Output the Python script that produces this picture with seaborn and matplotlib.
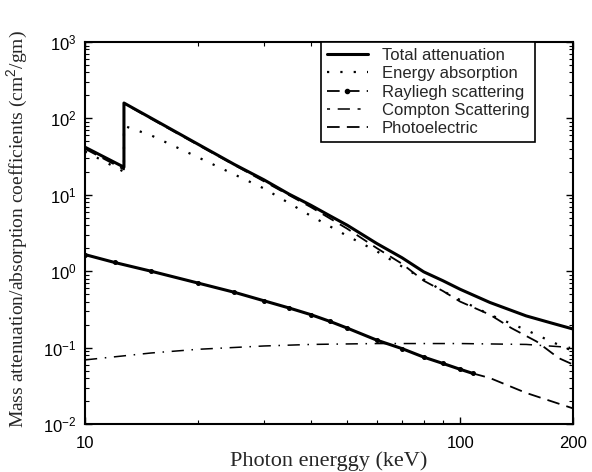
import numpy as np
import pandas as pd
import matplotlib
matplotlib.use("Agg")
import matplotlib.pyplot as plt
import seaborn as sns
from matplotlib.lines import Line2D
from matplotlib.ticker import LogLocator, NullFormatter, FixedLocator, FixedFormatter

# ---- data ----
total_x = [10, 12.7, 12.7, 15, 20, 25, 30, 35, 40, 45, 50, 60, 70, 80, 90, 100, 120, 150, 175, 200]
total_y = [42, 23, 159, 101, 46, 25, 15.7, 10.2, 7.3, 5.3, 4.0, 2.3, 1.5, 0.98, 0.75, 0.58, 0.39, 0.26, 0.21, 0.175]

absorb_x = [10, 12.7, 12.7, 15, 20, 30, 40, 50, 60, 70, 80, 90, 100, 120, 150, 175, 200]
absorb_y = [37, 20, 80, 60, 31, 12.1, 5.3, 2.9, 1.82, 1.15, 0.78, 0.55, 0.42, 0.27, 0.17, 0.12, 0.09]

rayl_x = [10, 12, 15, 20, 25, 30, 35, 40, 45, 50, 60, 70, 80, 90, 100, 108, 120, 150, 200]
rayl_y = [1.65, 1.3, 1.0, 0.70, 0.53, 0.41, 0.33, 0.27, 0.22, 0.18, 0.125, 0.097, 0.075, 0.062, 0.052, 0.046, 0.040, 0.0255, 0.016]
rayl_solid_max = 108

compt_x = [10, 15, 20, 30, 40, 60, 100, 150, 200]
compt_y = [0.069, 0.085, 0.095, 0.105, 0.110, 0.113, 0.113, 0.110, 0.100]

photo_x = [10, 12.7, 12.7, 15, 20, 30, 40, 50, 60, 70, 80, 90, 100, 120, 137, 160, 183, 200]
photo_y = [40, 21.5, 157, 99, 45, 15, 6.9, 3.6, 2.0, 1.25, 0.75, 0.55, 0.40, 0.27, 0.18, 0.12, 0.073, 0.06]

labels = ["Total attenuation", "Energy absorption", "Rayliegh scattering",
          "Compton Scattering", "Photoelectric"]
xticks = [10, 100, 200]
xticklabels = ["10", "100", "200"]

sns.set_style("ticks")
plt.rcParams["font.family"] = ["Liberation Sans", "DejaVu Sans"]
plt.rcParams["mathtext.fontset"] = "custom"
plt.rcParams["mathtext.rm"] = "Liberation Sans"

fig = plt.figure(figsize=(5.92, 4.72), dpi=100)
ax = fig.add_axes([0.1436, 0.1017, 0.8244, 0.8093])

def draw(xs, ys, **kw):
    df = pd.DataFrame({"x": xs, "y": ys})
    sns.lineplot(data=df, x="x", y="y", ax=ax, sort=False, estimator=None, **kw)

draw(photo_x, photo_y, color="black", lw=1.3, dashes=(7, 4))
draw(absorb_x, absorb_y, color="black", lw=1.6, dashes=(1, 5))
draw(compt_x, compt_y, color="black", lw=1.1, dashes=(8, 5, 1, 5))
rx = np.array(rayl_x); ry = np.array(rayl_y)
m = rx <= rayl_solid_max
draw(rx[m], ry[m], color="black", lw=2.2, marker="o", markersize=2.8,
     markeredgecolor="black", markerfacecolor="black")
k = rx >= rayl_solid_max
draw(rx[k], ry[k], color="black", lw=1.3, dashes=(7, 4))
draw(total_x, total_y, color="black", lw=2.2)

ax.set_xscale("log")
ax.set_yscale("log")
ax.set_xlim(10, 200)
ax.set_ylim(1e-2, 1e3)

ax.xaxis.set_major_locator(FixedLocator(xticks))
ax.xaxis.set_major_formatter(FixedFormatter(xticklabels))
ax.xaxis.set_minor_locator(LogLocator(base=10, subs=np.arange(2, 10), numticks=20))
ax.xaxis.set_minor_formatter(NullFormatter())
ax.yaxis.set_major_locator(LogLocator(base=10, numticks=10))
ax.yaxis.set_minor_locator(LogLocator(base=10, subs=np.arange(2, 10), numticks=20))
ax.yaxis.set_minor_formatter(NullFormatter())

ax.tick_params(which="both", direction="in", top=True, right=True, labelsize=12, colors="black")
ax.tick_params(which="major", length=5, width=1)
ax.tick_params(which="minor", length=3, width=0.8)
ax.tick_params(axis="x", which="major", pad=9)
ax.tick_params(axis="y", which="major", pad=6)
for s in ax.spines.values():
    s.set_linewidth(1.5)
    s.set_color("black")

ax.set_xlabel("Photon energgy (keV)", family=["Liberation Serif", "DejaVu Serif"],
              fontsize=16, labelpad=0)
ax.set_ylabel("Mass attenuation/absorption coefficients (cm$^2$/gm)",
              family=["Liberation Serif", "DejaVu Serif"], fontsize=14)
ax.yaxis.set_label_coords(-0.112, 0.51)

handles = [
    Line2D([], [], color="black", lw=2.2),
    Line2D([], [], color="black", lw=1.6, dashes=(1, 5)),
    Line2D([], [], color="black", lw=1.3, dashes=(7, 4), marker="o", markersize=3),
    Line2D([], [], color="black", lw=1.1, dashes=(2, 5, 8, 5)),
    Line2D([], [], color="black", lw=1.3, dashes=(7, 4)),
]
leg = ax.legend(handles, labels, loc="upper right", bbox_to_anchor=(0.922, 1.0),
                fontsize=12, frameon=True, fancybox=False, handlelength=2.5,
                borderpad=0.35, labelspacing=0.2, handletextpad=0.8, borderaxespad=0)
leg.get_frame().set_edgecolor("black")
leg.get_frame().set_linewidth(1.2)
leg.get_frame().set_alpha(1)

fig.savefig("out.png", dpi=100)
